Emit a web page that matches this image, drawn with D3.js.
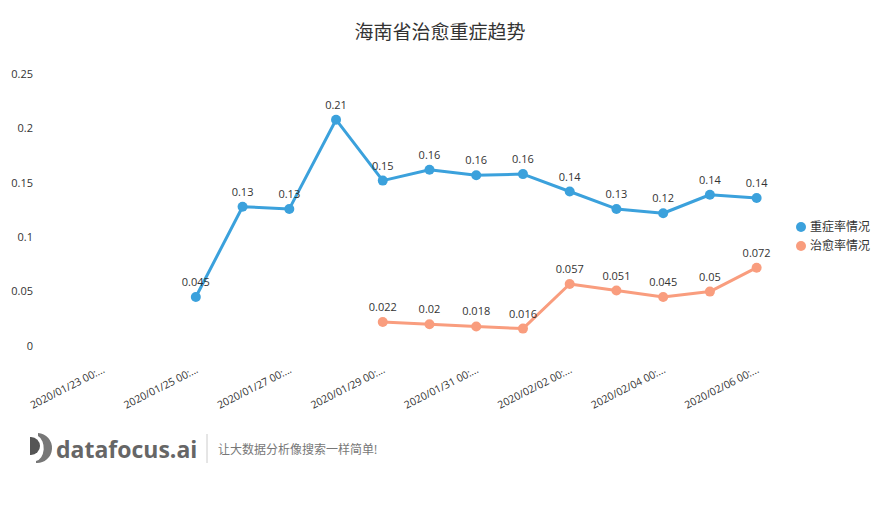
<!DOCTYPE html>
<html>
<head>
<meta charset="utf-8">
<script src="https://cdn.jsdelivr.net/npm/d3@7"></script>
<style>
  body { margin: 0; background: #fff; }
  text { font-family: "Open Sans", "Noto Sans CJK SC", sans-serif; }
</style>
</head>
<body>
<div id="chart"></div>
<script>
// categories (dates) and series values
const dates = ["2020/01/23", "2020/01/24", "2020/01/25", "2020/01/26", "2020/01/27", "2020/01/28",
  "2020/01/29", "2020/01/30", "2020/01/31", "2020/02/01", "2020/02/02", "2020/02/03",
  "2020/02/04", "2020/02/05", "2020/02/06"];
const severeRate = [null, null, 0.045, 0.128, 0.126, 0.208, 0.152, 0.162, 0.157, 0.158, 0.142, 0.126, 0.122, 0.139, 0.136];
const curedRate = [null, null, null, null, null, null, 0.022, 0.020, 0.018, 0.016, 0.057, 0.051, 0.045, 0.050, 0.072];
const yTicks = [0, 0.05, 0.1, 0.15, 0.2, 0.25];

const series = [
  { name: "重症率情况", values: severeRate, color: "#3ba1dc" },
  { name: "治愈率情况", values: curedRate, color: "#f99d7e" }
];

const width = 881, height = 513;
const svg = d3.select("#chart").append("svg")
  .attr("width", width)
  .attr("height", height);

const x = d3.scaleBand().domain(dates).range([79, 780]);
const y = d3.scaleLinear().domain([0, 0.25]).range([346, 74]);
const cx = d => x(d) + x.bandwidth() / 2;
const fmt = d3.format(".2~r");

// title
svg.append("text")
  .attr("x", 440)
  .attr("y", 39)
  .attr("text-anchor", "middle")
  .style("font-size", "19px")
  .style("fill", "#333")
  .text("海南省治愈重症趋势");

// y-axis labels
svg.append("g")
  .selectAll("text")
  .data(yTicks)
  .join("text")
  .attr("x", 33)
  .attr("y", d => y(d))
  .attr("dy", "0.35em")
  .attr("text-anchor", "end")
  .style("font-size", "11px")
  .style("fill", "#333")
  .text(d => d);

// x-axis labels (every other date)
svg.append("g")
  .selectAll("text")
  .data(dates.filter((d, i) => i % 2 === 0))
  .join("text")
  .attr("transform", d => `translate(${cx(d) + 3},${372}) rotate(-27)`)
  .attr("text-anchor", "end")
  .style("font-size", "10.5px")
  .style("fill", "#333")
  .text(d => d + " 00:...");

// lines, points and value labels
const line = d3.line()
  .defined(d => d.v != null)
  .x(d => cx(d.date))
  .y(d => y(d.v));

series.forEach(s => {
  const pts = dates.map((date, i) => ({ date, v: s.values[i] }));
  const g = svg.append("g");
  g.append("path")
    .datum(pts)
    .attr("d", line)
    .attr("fill", "none")
    .attr("stroke", s.color)
    .attr("stroke-width", 3)
    .attr("stroke-linejoin", "round");
  const valid = pts.filter(d => d.v != null);
  g.selectAll("circle")
    .data(valid)
    .join("circle")
    .attr("cx", d => cx(d.date))
    .attr("cy", d => y(d.v))
    .attr("r", 5)
    .attr("fill", s.color);
  g.selectAll(".label")
    .data(valid)
    .join("text")
    .attr("class", "label")
    .attr("x", d => cx(d.date))
    .attr("y", d => y(d.v) - 11)
    .attr("text-anchor", "middle")
    .style("font-size", "11px")
    .style("fill", "#333")
    .text(d => fmt(d.v));
});

// legend
const legend = svg.append("g");
series.forEach((s, i) => {
  legend.append("circle")
    .attr("cx", 801)
    .attr("cy", 227 + i * 19)
    .attr("r", 5)
    .attr("fill", s.color);
  legend.append("text")
    .attr("x", 810)
    .attr("y", 227 + i * 19)
    .attr("dy", "0.35em")
    .style("font-size", "12px")
    .style("fill", "#333")
    .text(s.name);
});

// datafocus logo
const logo = svg.append("g");
logo.append("path")
  .attr("d", "M30,437 L31,437 A9,9 0 0 1 31,455 L30,455 Z")
  .attr("fill", "#555");
logo.append("path")
  .attr("d", "M38,433 A15,15 0 0 1 36,463 L36,461 A9,13 0 0 0 38,436 Z")
  .attr("fill", "#777");
logo.append("text")
  .attr("x", 56)
  .attr("y", 458)
  .style("font-size", "23px")
  .style("font-weight", "bold")
  .style("fill", "#666")
  .text("datafocus.ai");
logo.append("line")
  .attr("x1", 207).attr("x2", 207)
  .attr("y1", 434).attr("y2", 463)
  .attr("stroke", "#ccc");
logo.append("text")
  .attr("x", 218)
  .attr("y", 454)
  .style("font-size", "12px")
  .style("fill", "#777")
  .text("让大数据分析像搜索一样简单!");
</script>
</body>
</html>
